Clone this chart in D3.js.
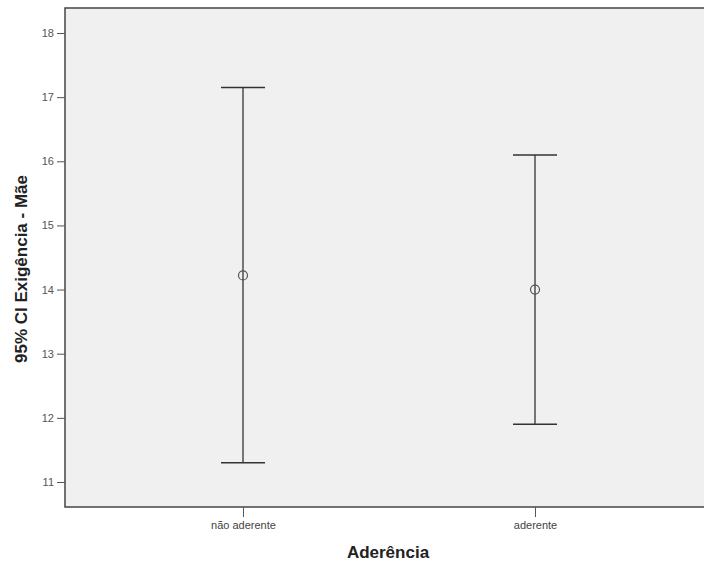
<html lang="en">
  <head>
    <meta charset="utf-8">
    <title>95% CI Exigência - Mãe</title>
    <script src="https://d3js.org/d3.v7.min.js"></script>
    <style>
      body { margin: 0; background: #fff; }
    </style>
  </head>
  <body>
    <div id="viz"></div>
    <script type="text/javascript">
    // data
    var categories = ["não aderente", "aderente"];
    var means = [14.22, 14.0];
    var lower = [11.3, 11.9];
    var upper = [17.15, 16.1];
    var yTicks = [11, 12, 13, 14, 15, 16, 17, 18];

    var w = 704, h = 565;
    // plot frame (right side runs off the picture)
    var plotLeft = 65, plotTop = 8, plotBottom = 507, plotRight = 720;

    var svg = d3.select("#viz")
      .append("svg")
      .attr("width", w)
      .attr("height", h);

    var y = d3.scaleLinear()
      .domain([10.61, 18.39])
      .range([plotBottom, plotTop]);

    var x = d3.scalePoint()
      .domain(categories)
      .range([243, 535]);

    // plot background
    svg.append("rect")
      .attr("x", plotLeft)
      .attr("y", plotTop)
      .attr("width", plotRight - plotLeft)
      .attr("height", plotBottom - plotTop)
      .attr("fill", "#f0f0f0")
      .attr("stroke", "#444")
      .attr("stroke-width", 1.5);

    // y axis
    var yAxis = d3.axisLeft(y).tickValues(yTicks).tickSize(8).tickPadding(3);
    var gy = svg.append("g")
      .attr("transform", "translate(" + plotLeft + ",0)")
      .call(yAxis);
    gy.select(".domain").remove();
    gy.selectAll("line").attr("stroke", "#555");
    gy.selectAll("text")
      .attr("fill", "#555")
      .style("font-family", "Arial, 'Liberation Sans', sans-serif")
      .style("font-size", "11px");

    // x axis
    var xAxis = d3.axisBottom(x).tickSize(10).tickPadding(4);
    var gx = svg.append("g")
      .attr("transform", "translate(0," + plotBottom + ")")
      .call(xAxis);
    gx.select(".domain").remove();
    gx.selectAll("line").attr("stroke", "#555");
    gx.selectAll("text")
      .attr("fill", "#444")
      .style("font-family", "Arial, 'Liberation Sans', sans-serif")
      .style("font-size", "11px");

    // error bars
    var capW = 22;
    var bars = svg.append("g").selectAll("g")
      .data(categories)
      .enter()
      .append("g");

    bars.append("line")
      .attr("x1", function(d) { return x(d); })
      .attr("x2", function(d) { return x(d); })
      .attr("y1", function(d, i) { return y(lower[i]); })
      .attr("y2", function(d, i) { return y(upper[i]); })
      .attr("stroke", "#333")
      .attr("stroke-width", 1.3);

    bars.append("line")
      .attr("x1", function(d) { return x(d) - capW; })
      .attr("x2", function(d) { return x(d) + capW; })
      .attr("y1", function(d, i) { return y(upper[i]); })
      .attr("y2", function(d, i) { return y(upper[i]); })
      .attr("stroke", "#333")
      .attr("stroke-width", 1.5);

    bars.append("line")
      .attr("x1", function(d) { return x(d) - capW; })
      .attr("x2", function(d) { return x(d) + capW; })
      .attr("y1", function(d, i) { return y(lower[i]); })
      .attr("y2", function(d, i) { return y(lower[i]); })
      .attr("stroke", "#333")
      .attr("stroke-width", 1.5);

    bars.append("circle")
      .attr("cx", function(d) { return x(d); })
      .attr("cy", function(d, i) { return y(means[i]); })
      .attr("r", 4.5)
      .attr("fill", "none")
      .attr("stroke", "#555")
      .attr("stroke-width", 1.2);

    // axis titles
    svg.append("text")
      .attr("x", 388)
      .attr("y", 558)
      .attr("text-anchor", "middle")
      .style("font-family", "Arial, 'Liberation Sans', sans-serif")
      .style("font-size", "17px")
      .style("font-weight", "bold")
      .attr("fill", "#222")
      .text("Aderência");

    svg.append("text")
      .attr("transform", "translate(27,269) rotate(-90)")
      .attr("text-anchor", "middle")
      .style("font-family", "Arial, 'Liberation Sans', sans-serif")
      .style("font-size", "17px")
      .style("font-weight", "bold")
      .attr("fill", "#222")
      .text("95% CI Exigência - Mãe");
    </script>
  </body>
</html>
